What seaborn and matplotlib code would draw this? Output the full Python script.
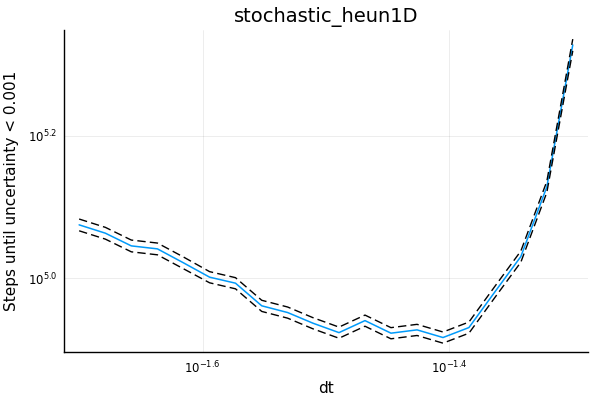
import numpy as np
import pandas as pd
import matplotlib
matplotlib.use("Agg")
import matplotlib.pyplot as plt
import seaborn as sns

# time steps (log spaced)
dt = [0.01995, 0.02095, 0.02199, 0.02309, 0.02424, 0.02545, 0.02671, 0.02805,
      0.02944, 0.03086, 0.03240, 0.03401, 0.03570, 0.03748, 0.03934, 0.04129,
      0.04334, 0.04549, 0.04775, 0.05012]

# mean number of steps until uncertainty < 0.001
steps = [118800, 115650, 111000, 109930, 105080, 100330, 98400, 91470,
         89500, 86480, 83880, 87200, 83730, 84630, 82560, 85260,
         95680, 107230, 134300, 212400]

# relative half width of the dashed band
spread = [0.019, 0.019, 0.019, 0.019, 0.019, 0.018, 0.018, 0.018,
          0.018, 0.018, 0.018, 0.018, 0.018, 0.018, 0.018, 0.018,
          0.018, 0.018, 0.018, 0.019]

df = pd.DataFrame({"dt": dt, "steps": steps, "spread": spread})
df["lower"] = df["steps"] * (1 - df["spread"])
df["upper"] = df["steps"] * (1 + df["spread"])

sns.set_style("white")
plt.rcParams["font.family"] = ["DejaVu Sans"]
plt.rcParams["text.color"] = "black"
plt.rcParams["axes.labelcolor"] = "black"

fig = plt.figure(figsize=(6, 4), dpi=100)
ax = fig.add_axes([0.1072, 0.1193, 0.9793 - 0.1072, 0.925 - 0.1193])

sns.lineplot(data=df, x="dt", y="steps", ax=ax, color="#009AFA", linewidth=1.1)
sns.lineplot(data=df, x="dt", y="upper", ax=ax, color="black", linewidth=1.0,
             linestyle=(0, (6, 3)))
sns.lineplot(data=df, x="dt", y="lower", ax=ax, color="black", linewidth=1.0,
             linestyle=(0, (6, 3)))

ax.set_xscale("log")
ax.set_yscale("log")

# 3% margins in log space like Plots.jl
lx = np.log10([min(dt), max(dt)])
mx = 0.03 * (lx[1] - lx[0])
ax.set_xlim(10 ** (lx[0] - mx), 10 ** (lx[1] + mx))
ly = np.log10([df["lower"].min(), df["upper"].max()])
my = 0.03 * (ly[1] - ly[0])
ax.set_ylim(10 ** (ly[0] - my), 10 ** (ly[1] + my))

ax.set_xticks([10 ** -1.6, 10 ** -1.4])
ax.set_xticklabels([r"$10^{-1.6}$", r"$10^{-1.4}$"])
ax.set_yticks([10 ** 5.0, 10 ** 5.2])
ax.set_yticklabels([r"$10^{5.0}$", r"$10^{5.2}$"])
ax.minorticks_off()

ax.tick_params(direction="in", length=4, width=0.8, labelsize=8.5,
               colors="black", pad=5)
ax.grid(True, color="black", alpha=0.1, linewidth=0.5)
for s in ["top", "right"]:
    ax.spines[s].set_visible(False)
for s in ["left", "bottom"]:
    ax.spines[s].set_color("black")
    ax.spines[s].set_linewidth(1.0)

ax.set_title("stochastic_heun1D", fontsize=14, pad=6, color="black")
ax.set_xlabel("dt", fontsize=11, labelpad=4)
ax.set_ylabel("Steps until uncertainty < 0.001", fontsize=11, labelpad=6)

fig.savefig("out.png", dpi=100)
